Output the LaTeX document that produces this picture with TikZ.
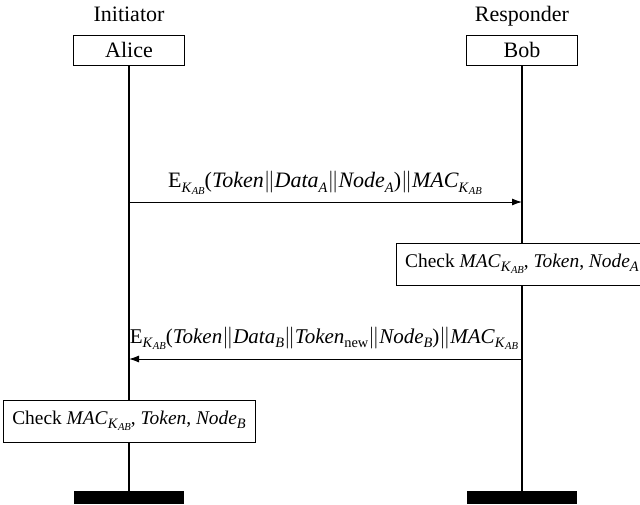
\documentclass[tikz,border=0pt]{standalone}
\usepackage{fontspec}
\setmainfont{Liberation Serif}
\usetikzlibrary{arrows.meta}

% lowered subscripts set in text fonts
\newcommand\subx[1]{\raisebox{-0.45ex}{\fontsize{7.2}{8}\selectfont #1}}
\newcommand\subxx[1]{\raisebox{-0.3ex}{\fontsize{5.3}{6}\selectfont #1}}
\newcommand\KAB{\subx{\textit{K}\subxx{\textit{AB}}}}
\newcommand\cc{$\|$}

\begin{document}
\begin{tikzpicture}[x=0.5pt,y=-0.5pt,
  font=\fontsize{11}{13}\selectfont,
  role/.style={inner sep=0pt, anchor=base},
  actor/.style={draw, line width=0.5pt, fill=white, minimum width=55.5pt,
                minimum height=15pt, inner sep=0pt},
  checkbox/.style={draw, line width=0.5pt, fill=white, minimum width=126pt,
                   minimum height=21pt, inner sep=0pt, font=\fontsize{9.7}{12}\selectfont},
  endbar/.style={fill=black, minimum width=55pt, minimum height=6.5pt, inner sep=0pt},
  lifeline/.style={line width=0.8pt},
  msg/.style={line width=0.5pt, -{Latex[length=5pt,width=3.5pt]}},
  msglabel/.style={inner sep=0pt, font=\fontsize{10.5}{12}\selectfont}]
\useasboundingbox (0,0) rectangle (640,504);

% participants
\node[role] (iniL) at (129,21) {Initiator};
\node[role] (resL) at (522,21) {Responder};
\node[actor] (alice) at (129,50) {Alice};
\node[actor] (bob) at (522,50) {Bob};

% end-of-life bars
\node[endbar] (endA) at (129,497.5) {};
\node[endbar] (endB) at (522,497.5) {};

% lifelines
\draw[lifeline] (alice.south) -- (endA.north);
\draw[lifeline] (bob.south) -- (endB.north);

% message 1: Alice -> Bob
\coordinate (m1a) at (129,202);
\coordinate (m1b) at (522,202);
\draw[msg] (m1a) -- (m1b);
\node[msglabel, font=\fontsize{11}{13}\selectfont] (lab1) at (325,183)
  {E\KAB(\textit{Token}\cc\textit{Data}\subx{\textit{A}}\cc\textit{Node}\subx{\textit{A}})\cc\textit{MAC}\KAB};

% Bob checks
\node[checkbox] (chkA) at (522,264)
  {Check \textit{MAC}\KAB, \textit{Token}, \textit{Node}\subx{\textit{A}}};

% message 2: Bob -> Alice
\coordinate (m2b) at (522,359);
\coordinate (m2a) at (129,359);
\draw[msg] (m2b) -- (m2a);
\node[msglabel] (lab2) at (324,338)
  {E\KAB(\textit{Token}\cc\textit{Data}\subx{\textit{B}}\cc\textit{Token}\subx{new}\cc\textit{Node}\subx{\textit{B}})\cc\textit{MAC}\KAB};

% Alice checks
\node[checkbox] (chkB) at (129,421)
  {Check \textit{MAC}\KAB, \textit{Token}, \textit{Node}\subx{\textit{B}}};
\end{tikzpicture}
\end{document}
